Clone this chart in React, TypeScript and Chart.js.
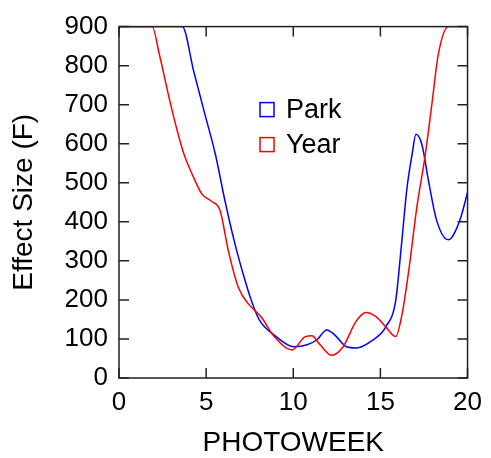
import React, { useEffect, useRef } from "react";
import { Chart, registerables } from "chart.js";

Chart.register(...registerables);

const parkWeeks = [0, 3.63, 4.29, 4.95, 5.52, 6.08, 6.65, 7.12, 7.59, 8.06, 8.91, 10.04, 10.79, 11.36, 11.92, 12.39, 13.05, 13.6, 14.56, 15.31, 15.88, 16.16, 16.53, 16.82, 17.04, 17.38, 17.76, 18.23, 18.9, 19.55, 20];
const parkEffect = [900, 900, 785, 672, 575, 454, 344, 267, 199, 148, 110, 80, 85, 98, 123, 110, 80, 77, 97, 131, 199, 318, 488, 573, 624, 598, 505, 403, 354, 403, 475];

const yearWeeks = [0, 1.9, 2.32, 2.88, 3.35, 3.73, 4.2, 4.76, 5.33, 5.8, 6.27, 6.84, 7.4, 8.15, 8.91, 9.94, 10.69, 11.07, 11.54, 12.2, 12.86, 13.6, 14.18, 14.75, 15.31, 15.88, 16.25, 16.63, 17.1, 17.57, 17.95, 18.32, 18.9, 20];
const yearEffect = [900, 900, 828, 717, 632, 573, 522, 471, 452, 429, 327, 233, 191, 157, 106, 72, 106, 108, 85, 58, 80, 145, 168, 157, 131, 106, 165, 276, 440, 570, 700, 828, 900, 900];

const seriesLabels = ["Park", "Year"];
const seriesColors = ["#0000ff", "#ff0000"];
const xTicks = [0, 5, 10, 15, 20];
const yTicks = [0, 100, 200, 300, 400, 500, 600, 700, 800, 900];

const FONT = "'Liberation Sans', Arial, sans-serif";

const framePlugin = {
  id: "frameTicks",
  afterDatasetsDraw(chart: any) {
    const { ctx, chartArea } = chart;
    const { left, right, top, bottom } = chartArea;
    const xs = chart.scales.x;
    const ys = chart.scales.y;
    const len = 10;
    ctx.save();
    ctx.strokeStyle = "#222";
    ctx.lineWidth = 1.5;
    ctx.beginPath();
    for (const v of xTicks) {
      const px = xs.getPixelForValue(v);
      ctx.moveTo(px, bottom);
      ctx.lineTo(px, bottom - len);
      ctx.moveTo(px, top);
      ctx.lineTo(px, top + len);
    }
    for (const v of yTicks) {
      const py = ys.getPixelForValue(v);
      ctx.moveTo(left, py);
      ctx.lineTo(left + len, py);
      ctx.moveTo(right, py);
      ctx.lineTo(right - len, py);
    }
    ctx.stroke();
    ctx.strokeRect(left, top, right - left, bottom - top);

    // legend inside plot area
    const lx = left + 141;
    const rows = [top + 91, top + 126];
    chart.data.datasets
      .slice()
      .sort((a: any, b: any) => seriesLabels.indexOf(a.label) - seriesLabels.indexOf(b.label))
      .forEach((ds: any, i: number) => {
        const base = rows[i];
        ctx.strokeStyle = ds.borderColor;
        ctx.lineWidth = 1.5;
        ctx.strokeRect(lx, base - 15, 14, 14);
        ctx.fillStyle = "#000";
        ctx.font = `27px ${FONT}`;
        ctx.textBaseline = "alphabetic";
        ctx.textAlign = "left";
        ctx.fillText(ds.label, lx + 26, base);
      });
    ctx.restore();
  },
};

export default function App() {
  const ref = useRef<HTMLCanvasElement | null>(null);
  useEffect(() => {
    document.body.style.margin = "0";
    if (!ref.current) return;
    const chart = new Chart(ref.current, {
      type: "line",
      data: {
        datasets: [
          {
            label: seriesLabels[0],
            data: parkWeeks.map((w, i) => ({ x: w, y: parkEffect[i] })),
            borderColor: seriesColors[0],
            borderWidth: 1.5,
            pointRadius: 0,
            cubicInterpolationMode: "monotone",
            fill: false,
            order: 1,
          },
          {
            label: seriesLabels[1],
            data: yearWeeks.map((w, i) => ({ x: w, y: yearEffect[i] })),
            borderColor: seriesColors[1],
            borderWidth: 1.5,
            pointRadius: 0,
            cubicInterpolationMode: "monotone",
            fill: false,
            order: 0,
          },
        ],
      },
      options: {
        animation: false,
        responsive: false,
        layout: { padding: { top: 25, right: 18, left: 0, bottom: 0 } },
        plugins: { legend: { display: false }, tooltip: { enabled: false } },
        scales: {
          x: {
            type: "linear",
            min: 0,
            max: 20,
            afterFit: (s: any) => { s.height = 80; },
            afterBuildTicks: (s: any) => { s.ticks = xTicks.map((v) => ({ value: v })); },
            grid: { display: false, drawTicks: false },
            border: { display: false },
            ticks: { color: "#000", font: { family: FONT, size: 26 }, padding: 9, maxRotation: 0 },
            title: { display: true, text: "PHOTOWEEK", color: "#000", font: { family: FONT, size: 28, lineHeight: 1 }, padding: { top: 0, bottom: 1 } },
          },
          y: {
            type: "linear",
            min: 0,
            max: 900,
            afterFit: (s: any) => { s.width = 119; },
            afterBuildTicks: (s: any) => { s.ticks = yTicks.map((v) => ({ value: v })); },
            grid: { display: false, drawTicks: false },
            border: { display: false },
            ticks: { color: "#000", font: { family: FONT, size: 26 }, padding: 11 },
            title: { display: true, text: "Effect Size (F)", color: "#000", font: { family: FONT, size: 28, lineHeight: 1 }, padding: { top: 10, bottom: 0 } },
          },
        },
      },
      plugins: [framePlugin],
    } as any);
    return () => chart.destroy();
  }, []);
  return <canvas ref={ref} width={491} height={458} style={{ display: "block" }} />;
}
